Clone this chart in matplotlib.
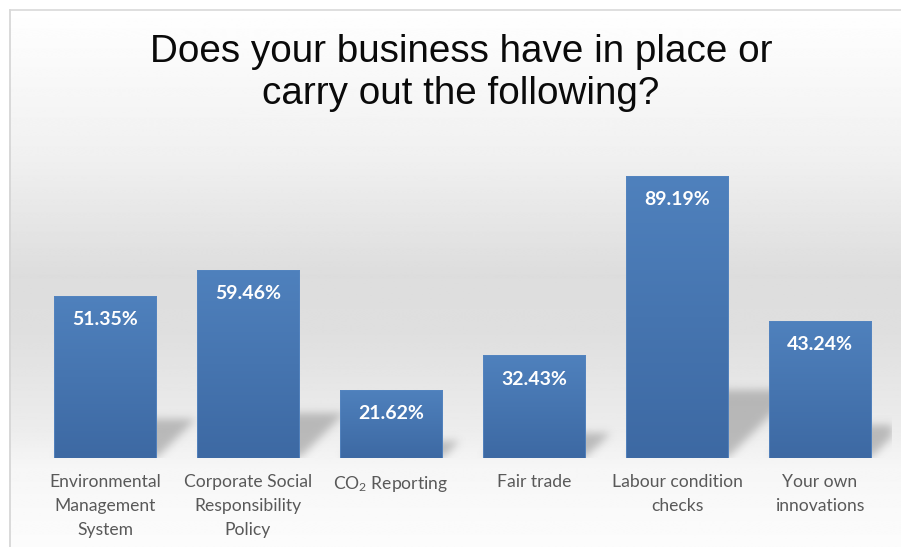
import numpy as np
import matplotlib
matplotlib.use("Agg")
import matplotlib.pyplot as plt
from matplotlib.path import Path
from matplotlib.colors import LinearSegmentedColormap

plt.rcParams["mathtext.default"] = "regular"

# ---- data ----
categories = [
    "Environmental\nManagement\nSystem",
    "Corporate Social\nResponsibility\nPolicy",
    "CO$_2$ Reporting",
    "Fair trade",
    "Labour condition\nchecks",
    "Your own\ninnovations",
]
values = [51.35, 59.46, 21.62, 32.43, 89.19, 43.24]
value_labels = ["51.35%", "59.46%", "21.62%", "32.43%", "89.19%", "43.24%"]
title = "Does your business have in place or\ncarry out the following?"

W, H, DPI = 901, 547, 100
fig = plt.figure(figsize=(W / DPI, H / DPI), dpi=DPI)

# ---- background: vertical grey gradient inside a frame ----
bg = fig.add_axes([0, 0, 1, 1], zorder=0)
bg.set_xlim(0, W)
bg.set_ylim(H, 0)
bg.axis("off")
stops_y = [0, 20, 150, 270, 330, 430, 465, 547]
stops_g = [255, 253, 240, 221, 223, 237, 246, 252]
rows = np.interp(np.arange(H), stops_y, stops_g) / 255.0
grad = np.repeat(rows[:, None], 2, axis=1)
bg.imshow(grad, cmap="gray", vmin=0, vmax=1, extent=(9, W + 20, H, 9),
          aspect="auto", interpolation="bilinear")
bg.plot([9.5, 9.5], [9.5, H], color="#d4d4d4", lw=1.2)
bg.plot([9.5, W], [9.5, 9.5], color="#d9d9d9", lw=1.2)

fig.text(461 / W, 1 - 73 / H, title, ha="center", va="center",
         fontsize=27.8, family="Liberation Sans", color="#0a0a0a",
         linespacing=1.25)

# ---- plot area ----
left_px, right_px, base_px, top_px = 33.5, 891.5, 458, 160
px_per_unit = 3.162
ymax = (base_px - top_px) / px_per_unit
ax = fig.add_axes([left_px / W, 1 - base_px / H,
                   (right_px - left_px) / W, (base_px - top_px) / H], zorder=1)
ax.set_xlim(-0.5, len(values) - 0.5)
ax.set_ylim(0, ymax)
ax.axis("off")
ax.patch.set_alpha(0)

bar_w = 0.715
slot_px = (right_px - left_px) / len(values)

# soft perspective shadows behind the bars
nx, ny = int(right_px - left_px), int(base_px - top_px)
gx = np.linspace(-0.5, len(values) - 0.5, nx)
gy = np.linspace(0, ymax, ny)
GX, GY = np.meshgrid(gx, gy)
pts = np.column_stack([GX.ravel(), GY.ravel()])
mask = np.zeros(nx * ny)
for i, v in enumerate(values):
    h = 0.24 * v
    s = 1.0 * h * px_per_unit / slot_px
    xl, xr = i - bar_w / 2, i + bar_w / 2
    poly = Path([(xl, 0), (xr, 0), (xr + s, h), (xl + s, h), (xl, 0)])
    mask = np.maximum(mask, poly.contains_points(pts).astype(float))
mask = mask.reshape(ny, nx)
sig = 4.2
k = np.arange(-14, 15)
ker = np.exp(-0.5 * (k / sig) ** 2)
ker /= ker.sum()
mask = np.apply_along_axis(lambda r: np.convolve(r, ker, mode="same"), 1, mask)
mask = np.apply_along_axis(lambda c: np.convolve(c, ker, mode="same"), 0, mask)
shadow = np.zeros((ny, nx, 4))
shadow[..., :3] = 0.52
shadow[..., 3] = mask * 0.5
ax.imshow(shadow, extent=(-0.5, len(values) - 0.5, 0, ymax), origin="lower",
          aspect="auto", zorder=1, interpolation="bilinear")

# gradient-filled bars
bar_cmap = LinearSegmentedColormap.from_list("barblue", ["#3d69a3", "#4f81bd"])
vgrad = np.linspace(0, 1, 256)[:, None]
bars = ax.bar(range(len(values)), values, width=bar_w, color="none",
              edgecolor="#5585c0", linewidth=0.6, zorder=3)
for rect, v in zip(bars, values):
    x0 = rect.get_x()
    im = ax.imshow(vgrad, cmap=bar_cmap, origin="lower", aspect="auto",
                   extent=(x0, x0 + bar_w, 0, v), zorder=2,
                   interpolation="bilinear")
    im.set_clip_path(rect)

# value labels inside the bar tops
for i, (v, lab) in enumerate(zip(values, value_labels)):
    ax.annotate(lab, (i, v), xytext=(0, -17), textcoords="offset points",
                ha="center", va="center", color="white", fontsize=14,
                fontweight="bold", family="Lato", zorder=4)

# category labels under the bars
for i, cat in enumerate(categories):
    ax.annotate(cat, (i, 0), xytext=(0, -11.5), textcoords="offset points",
                ha="center", va="top", color="#595959", fontsize=12.6,
                family="Lato", linespacing=1.6, annotation_clip=False)

fig.savefig("out.png", dpi=DPI)
